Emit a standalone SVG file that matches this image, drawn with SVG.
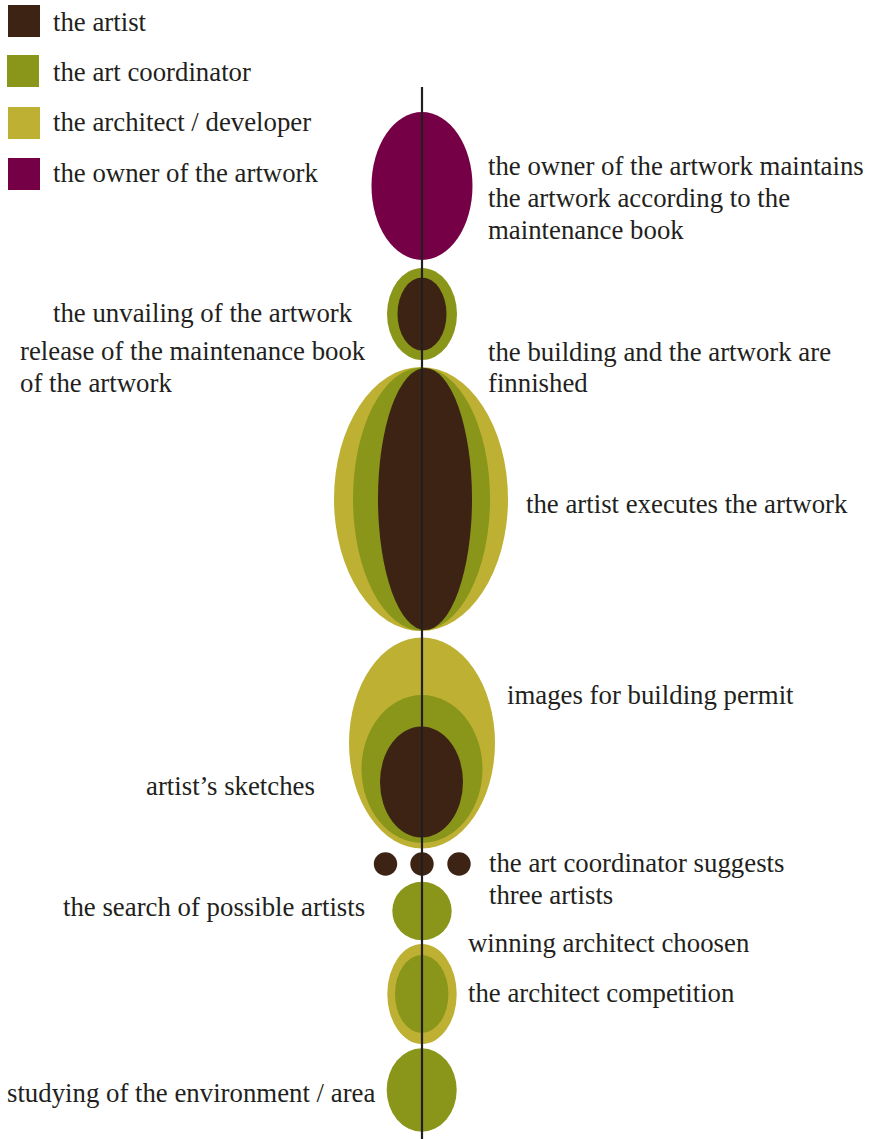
<svg xmlns="http://www.w3.org/2000/svg" width="871" height="1139" viewBox="0 0 871 1139" font-family="Liberation Serif, serif">
<style>
.t{font-size:26.8px;fill:#231f20}
.artist{fill:#3d2314}
.coord{fill:#8a961a}
.arch{fill:#bdb033}
.owner{fill:#750046}
.axis{stroke:#231f20;stroke-width:2.2;fill:none}
</style>
<rect width="871" height="1139" fill="#ffffff"/>
<g id="legend">
<rect class="artist" x="8" y="5" width="32" height="32"/>
<text class="t" x="53" y="31" font-family="Liberation Serif, serif">the artist</text>
<rect class="coord" x="7" y="55" width="32" height="32"/>
<text class="t" x="53" y="81" font-family="Liberation Serif, serif">the art coordinator</text>
<rect class="arch" x="8" y="107" width="32" height="32"/>
<text class="t" x="53" y="131" font-family="Liberation Serif, serif">the architect / developer</text>
<rect class="owner" x="8" y="158" width="32" height="32"/>
<text class="t" x="53" y="182" font-family="Liberation Serif, serif">the owner of the artwork</text>
</g>
<g id="maintenance">
<ellipse class="owner" cx="422" cy="186" rx="50.5" ry="74"/>
<text class="t" x="488" y="175" font-family="Liberation Serif, serif">the owner of the artwork maintains</text>
<text class="t" x="488" y="207" font-family="Liberation Serif, serif">the artwork according to the</text>
<text class="t" x="488" y="239" font-family="Liberation Serif, serif">maintenance book</text>
</g>
<g id="unveiling">
<ellipse class="coord" cx="422" cy="314" rx="35" ry="46"/>
<ellipse class="artist" cx="422" cy="314" rx="24.5" ry="36.5"/>
<text class="t" x="53" y="322" font-family="Liberation Serif, serif">the unvailing of the artwork</text>
<text class="t" x="20" y="360" font-family="Liberation Serif, serif">release of the maintenance book</text>
<text class="t" x="20" y="392" font-family="Liberation Serif, serif">of the artwork</text>
<text class="t" x="488" y="361" font-family="Liberation Serif, serif">the building and the artwork are</text>
<text class="t" x="488" y="392" font-family="Liberation Serif, serif">finnished</text>
</g>
<g id="execution">
<ellipse class="arch" cx="421" cy="499" rx="87" ry="132"/>
<ellipse class="coord" cx="421.5" cy="499" rx="68.5" ry="131.5"/>
<ellipse class="artist" cx="425" cy="499" rx="47" ry="131"/>
<text class="t" x="526" y="513" font-family="Liberation Serif, serif">the artist executes the artwork</text>
</g>
<g id="sketches">
<ellipse class="arch" cx="422" cy="743" rx="73" ry="105.5"/>
<ellipse class="coord" cx="422" cy="769" rx="60.5" ry="74"/>
<ellipse class="artist" cx="421.5" cy="782" rx="41.5" ry="55.5"/>
<text class="t" x="507" y="704" font-family="Liberation Serif, serif">images for building permit</text>
<text class="t" x="146" y="795" font-family="Liberation Serif, serif">artist’s sketches</text>
</g>
<g id="three-artists">
<circle class="artist" cx="385.5" cy="864" r="11.7"/>
<circle class="artist" cx="422" cy="864" r="11.7"/>
<circle class="artist" cx="459" cy="864" r="11.7"/>
<text class="t" x="489" y="872" font-family="Liberation Serif, serif">the art coordinator suggests</text>
<text class="t" x="489" y="904" font-family="Liberation Serif, serif">three artists</text>
</g>
<g id="search">
<ellipse class="coord" cx="422" cy="911" rx="29.7" ry="29.3"/>
<text class="t" x="63" y="916" font-family="Liberation Serif, serif">the search of possible artists</text>
</g>
<g id="competition">
<ellipse class="arch" cx="422" cy="994" rx="34.7" ry="50"/>
<ellipse class="coord" cx="421.7" cy="994" rx="26.7" ry="39"/>
<text class="t" x="468" y="952" font-family="Liberation Serif, serif">winning architect choosen</text>
<text class="t" x="468" y="1002" font-family="Liberation Serif, serif">the architect competition</text>
</g>
<g id="study">
<ellipse class="coord" cx="421.7" cy="1090" rx="35" ry="41.7"/>
<text class="t" x="7" y="1102" font-family="Liberation Serif, serif">studying of the environment / area</text>
</g>
<g id="connectors">
<line class="axis" x1="422" y1="87" x2="422" y2="1139"/>
</g>
</svg>
